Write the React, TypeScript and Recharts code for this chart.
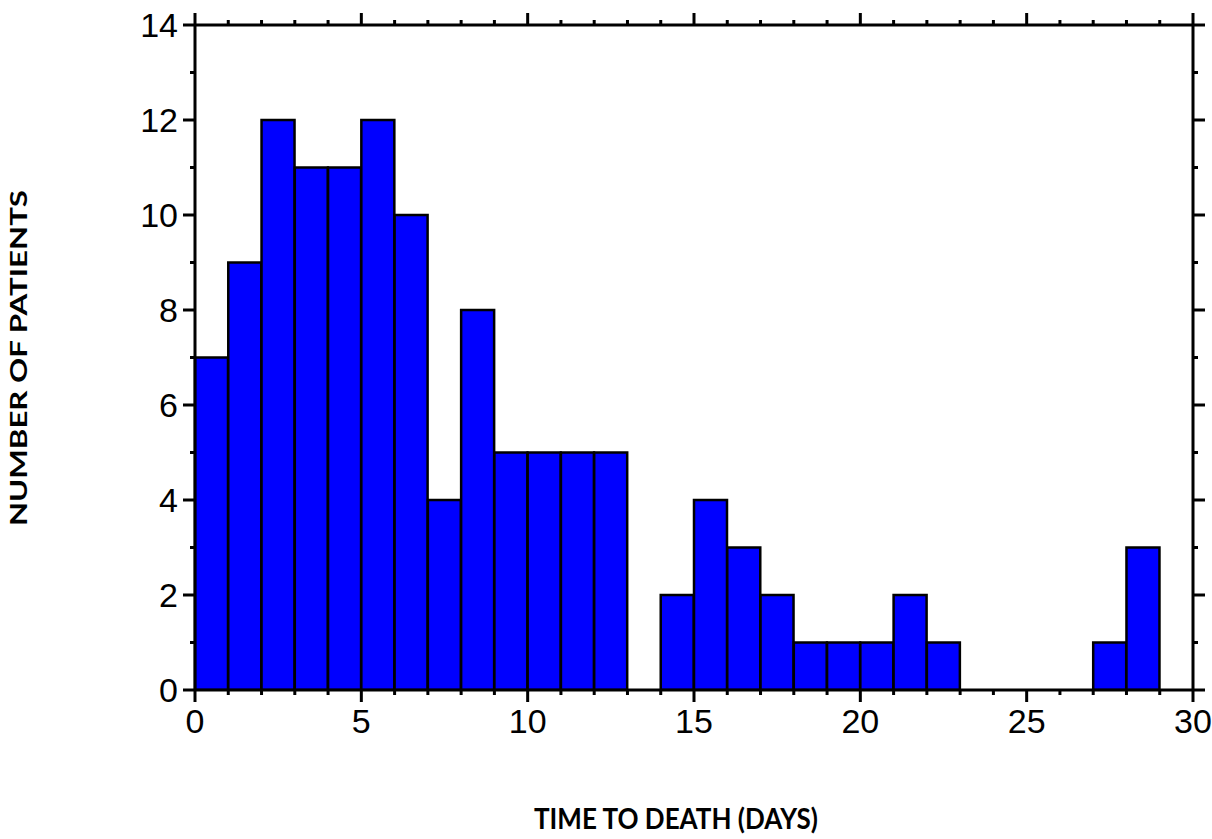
import React from "react";
import { ComposedChart, Bar, Line, XAxis, YAxis } from "recharts";

// histogram: number of patients per 1-day bin (0-1, 1-2, ... 29-30)
const binStarts = [
  0, 1, 2, 3, 4, 5, 6, 7, 8, 9, 10, 11, 12, 13, 14, 15, 16, 17, 18, 19, 20,
  21, 22, 23, 24, 25, 26, 27, 28, 29,
];
const patientCounts = [
  7, 9, 12, 11, 11, 12, 10, 4, 8, 5, 5, 5, 5, 0, 2, 4, 3, 2, 1, 1, 1, 2, 1, 0,
  0, 0, 0, 1, 3, 0,
];

const xTicks = [
  0, 1, 2, 3, 4, 5, 6, 7, 8, 9, 10, 11, 12, 13, 14, 15, 16, 17, 18, 19, 20,
  21, 22, 23, 24, 25, 26, 27, 28, 29, 30,
];
const xLabelTicks = [0, 5, 10, 15, 20, 25, 30];
const yTicks = [0, 1, 2, 3, 4, 5, 6, 7, 8, 9, 10, 11, 12, 13, 14];
const yLabelTicks = [0, 2, 4, 6, 8, 10, 12, 14];

const data = binStarts.map((start, i) => ({
  bin: `${start}-${start + 1}`,
  mid: start + 0.5,
  count: patientCounts[i],
}));

const W = 1212;
const H = 839;
const AXIS_W = 3;
const MAJOR = 12;
const MINOR = 5;
const tickFont = "'Liberation Sans', Arial, sans-serif";
const titleFont = "Lato, Carlito, 'Open Sans', sans-serif";

const renderXTick = (props: any, side: "top" | "bottom") => {
  const { x, y, payload } = props;
  const v = payload.value;
  const major = xLabelTicks.includes(v);
  const dir = side === "top" ? -1 : 1;
  return (
    <g>
      <line
        x1={x}
        x2={x}
        y1={y}
        y2={y + dir * (major ? MAJOR : MINOR)}
        stroke="#000"
        strokeWidth={AXIS_W}
      />
      {side === "bottom" && major && (
        <text
          x={x}
          y={y + 43}
          textAnchor="middle"
          fontFamily={tickFont}
          fontSize={34}
          fill="#000"
        >
          {v}
        </text>
      )}
    </g>
  );
};

const renderYTick = (props: any, side: "left" | "right") => {
  const { x, y, payload } = props;
  const v = payload.value;
  const major = yLabelTicks.includes(v);
  const dir = side === "left" ? -1 : 1;
  return (
    <g>
      <line
        x1={x}
        x2={x + dir * (major ? MAJOR : MINOR)}
        y1={y}
        y2={y}
        stroke="#000"
        strokeWidth={AXIS_W}
      />
      {side === "left" && major && (
        <text
          x={x - 17}
          y={y + 12}
          textAnchor="end"
          fontFamily={tickFont}
          fontSize={34}
          fill="#000"
        >
          {v}
        </text>
      )}
    </g>
  );
};

const axisLine = { stroke: "#000", strokeWidth: AXIS_W };

export default function App() {
  return (
    <div
      style={{
        position: "absolute",
        left: 0,
        top: 0,
        width: W,
        height: H,
        background: "#fff",
      }}
    >
      <ComposedChart
        width={W}
        height={H}
        data={data}
        margin={{ top: 24, right: 18, bottom: 148, left: 194 }}
        barCategoryGap={0}
        barGap={0}
      >
        <XAxis
          xAxisId="bottom"
          dataKey="mid"
          type="number"
          domain={[0, 30]}
          allowDataOverflow
          ticks={xTicks}
          interval={0}
          height={1}
          tickSize={0}
          tickMargin={0}
          tickLine={false}
          axisLine={axisLine}
          tick={(p: any) => renderXTick(p, "bottom")}
        />
        <XAxis
          xAxisId="top"
          orientation="top"
          dataKey="mid"
          type="number"
          domain={[0, 30]}
          allowDataOverflow
          ticks={xTicks}
          interval={0}
          height={1}
          tickSize={0}
          tickMargin={0}
          tickLine={false}
          axisLine={axisLine}
          tick={(p: any) => renderXTick(p, "top")}
        />
        <XAxis xAxisId="bin" dataKey="bin" type="category" height={0} hide />
        <YAxis
          yAxisId="left"
          type="number"
          domain={[0, 14]}
          allowDataOverflow
          ticks={yTicks}
          interval={0}
          width={1}
          tickSize={0}
          tickMargin={0}
          tickLine={false}
          axisLine={axisLine}
          tick={(p: any) => renderYTick(p, "left")}
        />
        <YAxis
          yAxisId="right"
          orientation="right"
          type="number"
          domain={[0, 14]}
          allowDataOverflow
          ticks={yTicks}
          interval={0}
          width={1}
          tickSize={0}
          tickMargin={0}
          tickLine={false}
          axisLine={axisLine}
          tick={(p: any) => renderYTick(p, "right")}
        />
        <Bar
          xAxisId="bin"
          yAxisId="left"
          dataKey="count"
          fill="#0000FF"
          stroke="#000"
          strokeWidth={2.5}
          isAnimationActive={false}
        />
        {/* invisible series so the frame axes get their scales */}
        <Line
          xAxisId="bottom"
          yAxisId="right"
          dataKey="count"
          stroke="none"
          dot={false}
          activeDot={false}
          isAnimationActive={false}
        />
        <Line
          xAxisId="top"
          yAxisId="left"
          dataKey="count"
          stroke="none"
          dot={false}
          activeDot={false}
          isAnimationActive={false}
        />
      </ComposedChart>
      <svg
        width={W}
        height={H}
        style={{ position: "absolute", left: 0, top: 0, pointerEvents: "none" }}
      >
        <text
          transform="rotate(-90)"
          x={-358}
          y={27}
          textAnchor="middle"
          fontFamily={titleFont}
          fontWeight="bold"
          fontSize={22}
          textLength={336}
          lengthAdjust="spacingAndGlyphs"
          fill="#000"
        >
          NUMBER OF PATIENTS
        </text>
        <text
          x={676}
          y={829}
          textAnchor="middle"
          fontFamily={titleFont}
          fontWeight="bold"
          fontSize={29}
          textLength={284}
          lengthAdjust="spacingAndGlyphs"
          fill="#000"
        >
          TIME TO DEATH (DAYS)
        </text>
      </svg>
    </div>
  );
}
